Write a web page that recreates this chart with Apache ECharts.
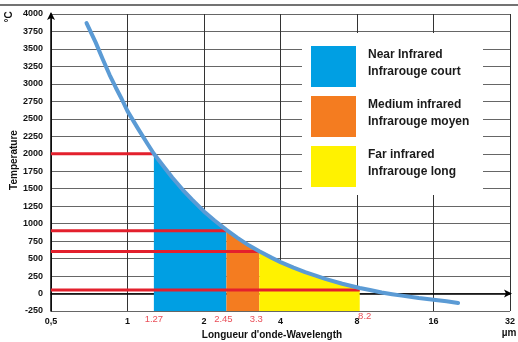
<!DOCTYPE html>
<html><head><meta charset="utf-8">
<script src="https://cdn.jsdelivr.net/npm/echarts@6/dist/echarts.min.js"></script>
<style>html,body{margin:0;padding:0;background:#fff}#c{width:518px;height:342px}</style>
</head><body><div id="c"></div>
<script>
// x ticks (µm, log2 axis) and y ticks (°C)
const xTicks = [0.5, 1, 2, 4, 8, 16, 32];
const yMin = -250, yMax = 4000, yStep = 250;
// Curve: [wavelength µm, temperature °C]
const curve = [[0.69,3870],[0.75,3590],[0.8,3350],[0.85,3130],[0.9,2945],[0.95,2780],[1.0,2610],[1.1,2360],[1.2,2140],[1.27,2000],[1.4,1800],[1.5,1660],[1.65,1485],[1.8,1340],[2.0,1175],[2.2,1045],[2.45,910],[2.7,800],[3.0,690],[3.3,605],[3.7,510],[4.0,450],[4.5,370],[5.0,305],[5.5,255],[6.0,210],[7.0,140],[8.2,80],[9,50],[10,15],[11,-10],[12,-30],[14,-65],[16,-90],[18,-112],[20,-135]];
// band boundaries and reference temperatures
const bandEdges = [1.27, 2.45, 3.3, 8.2];
const edgeTemps = [2000, 900, 600, 50];
const edgeLabels = ['1.27', '2.45', '3.3', '8.2'];
// band fills (top edge follows curve)
const nearBand = [[1.27,2000],[1.4,1800],[1.5,1660],[1.65,1485],[1.8,1340],[2.0,1175],[2.2,1045],[2.45,910]];
const mediumBand = [[2.45,910],[2.7,800],[3.0,690],[3.3,605]];
const farBand = [[3.3,605],[3.7,510],[4.0,450],[4.5,370],[5.0,305],[5.5,255],[6.0,210],[7.0,140],[8.2,70]];
const bandNames = [['Near Infrared','Infrarouge court'],['Medium infrared','Infrarouge moyen'],['Far infrared','Infrarouge long']];
const bandColors = ['#009fe3', '#f47c20', '#fff200'];

const chart = echarts.init(document.getElementById('c'), null, {renderer:'canvas'});
const font = 'Arial, "Liberation Sans", sans-serif';

function band(data, color){
  return {type:'line', data:data, symbol:'none', smooth:false,
    lineStyle:{width:0}, areaStyle:{color:color, opacity:1, origin:'start'}, z:2, silent:true};
}
const series = [band(nearBand,bandColors[0]), band(mediumBand,bandColors[1]), band(farBand,bandColors[2])];
bandEdges.forEach((x,i)=>{
  series.push({type:'line', data:[[xTicks[0],edgeTemps[i]],[x,edgeTemps[i]]], symbol:'none',
    lineStyle:{color:'#e3202d', width:3}, z:4, silent:true});
});
series.push({type:'line', data:curve, symbol:'none', smooth:false,
  lineStyle:{color:'#5b9bd5', width:4, cap:'round', join:'round'}, z:5, silent:true});
series.push({type:'scatter', symbolSize:0, z:6, silent:true,
  data: bandEdges.map((x,i)=>({value:[x,yMin], label:{offset: i===3?[5,-2]:(i===0?[0,1]:[-3,1])}})),
  label:{show:true, position:'bottom', distance:2, color:'#e3202d', fontSize:9.5, fontFamily:font,
    formatter:p=>edgeLabels[p.dataIndex]}});

const legendGraphics = [{type:'rect', shape:{x:302,y:33,width:181,height:162}, style:{fill:'#fff'}, z:10}];
bandColors.forEach((c,i)=>{
  const y0 = 46 + i*50;
  legendGraphics.push({type:'rect', shape:{x:311,y:y0,width:45,height:41}, style:{fill:c}, z:11});
  legendGraphics.push({type:'text', x:368, y:y0+9, style:{text:bandNames[i][0], font:'bold 12px '+font, fill:'#1a1a1a', textVerticalAlign:'middle'}, z:11});
  legendGraphics.push({type:'text', x:368, y:y0+26, style:{text:bandNames[i][1], font:'bold 12px '+font, fill:'#1a1a1a', textVerticalAlign:'middle'}, z:11});
});

chart.setOption({
  animation:false,
  backgroundColor:'#fff',
  grid:{left:51, right:6, top:14, bottom:31},
  xAxis:{type:'log', logBase:2, min:xTicks[0], max:xTicks[xTicks.length-1],
    axisLine:{show:true, lineStyle:{color:'#000', width:1.5}, symbol:['none','arrow'], symbolSize:[6,8], symbolOffset:[0,2]},
    axisTick:{show:false}, minorTick:{show:false},
    axisLabel:{color:'#111', fontSize:9, fontWeight:'bold', fontFamily:font, margin:6,
      formatter:v=> v===0.5 ? '0,5' : String(v)},
    splitLine:{show:true, lineStyle:{color:'#333', width:1}}},
  yAxis:{type:'value', min:yMin, max:yMax, interval:yStep,
    axisLine:{show:true, onZero:false, lineStyle:{color:'#000', width:1.5}, symbol:['none','arrow'], symbolSize:[6,8], symbolOffset:[0,2]},
    axisTick:{show:false},
    axisLabel:{color:'#111', fontSize:9, fontWeight:'bold', fontFamily:font, margin:8, formatter:v=>String(v)},
    splitLine:{show:true, lineStyle:{color:'#666', width:1}}},
  series:series,
  graphic:[
    {type:'line', shape:{x1:0,y1:5,x2:518,y2:5}, style:{stroke:'#444', lineWidth:1.5}, z:1},
    {type:'text', x:9, y:17, rotation:Math.PI/2, style:{text:'°C', font:'bold 10px '+font, fill:'#111', textAlign:'center', textVerticalAlign:'middle'}},
    {type:'text', x:14, y:160, rotation:Math.PI/2, style:{text:'Temperature', font:'bold 10px '+font, fill:'#111', textAlign:'center', textVerticalAlign:'middle'}},
    {type:'text', x:272, y:335, style:{text:"Longueur d'onde-Wavelength", font:'bold 10px '+font, fill:'#111', textAlign:'center', textVerticalAlign:'middle'}},
    {type:'text', x:509, y:333, style:{text:'µm', font:'bold 10px '+font, fill:'#111', textAlign:'center', textVerticalAlign:'middle'}}
  ].concat(legendGraphics)
});
</script></body></html>
